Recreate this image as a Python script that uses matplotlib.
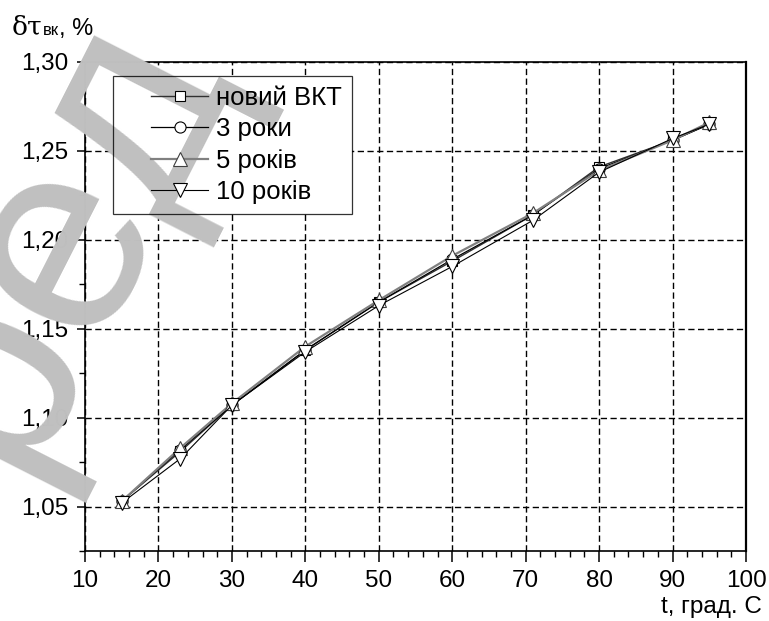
import matplotlib
matplotlib.use("Agg")
import matplotlib.pyplot as plt
from matplotlib.ticker import MultipleLocator, FuncFormatter
from matplotlib.legend_handler import HandlerLine2D
from matplotlib.lines import Line2D
from matplotlib.patches import Rectangle

plt.rcParams['font.family'] = ['Liberation Sans', 'DejaVu Sans']

# Data
t = [15, 23, 30, 40, 50, 60, 71, 80, 90, 95]
new_vkt = [1.053, 1.081, 1.107, 1.138, 1.165, 1.188, 1.214, 1.241, 1.256, 1.265]
years_3 = [1.053, 1.082, 1.107, 1.138, 1.165, 1.189, 1.214, 1.240, 1.256, 1.265]
years_5 = [1.053, 1.083, 1.108, 1.140, 1.166, 1.191, 1.215, 1.239, 1.256, 1.266]
years_10 = [1.052, 1.077, 1.107, 1.137, 1.163, 1.185, 1.211, 1.238, 1.257, 1.265]
labels = ["новий ВКТ", "3 роки", "5 років", "10 років"]

W, H = 769, 621
FS = 17.5
FS_LEG = 18.5
fig = plt.figure(figsize=(W / 100, H / 100), dpi=100)
ax = fig.add_axes([85 / W, 1 - 551 / H, (746 - 85) / W, (551 - 62) / H])

series = [new_vkt, years_3, years_5, years_10]
markers = ['s', 'o', '^', 'v']
msizes = [7.5, 8, 10, 10]
colors = ['#303030', 'black', '#808080', 'black']
widths = [1.0, 0.9, 1.6, 0.8]
for ys, m, ms, c, lw, lab in zip(series, markers, msizes, colors, widths, labels):
    ax.plot(t, ys, marker=m, markersize=ms, color=c, lw=lw,
            markerfacecolor='white', markeredgecolor='black' if m != '^' else '#404040',
            markeredgewidth=0.8, label=lab, zorder=3)

ax.set_xlim(10, 100)
ax.set_ylim(1.025, 1.30)
ax.xaxis.set_major_locator(MultipleLocator(10))
ax.xaxis.set_minor_locator(MultipleLocator(2))
ax.yaxis.set_major_locator(MultipleLocator(0.05))
ax.yaxis.set_minor_locator(MultipleLocator(0.025))
ax.yaxis.set_major_formatter(FuncFormatter(lambda v, p: f"{v:.2f}".replace('.', ',')))

ax.tick_params(which='major', direction='out', width=1.1, labelsize=FS)
ax.tick_params(axis='x', which='major', length=8, pad=6)
ax.tick_params(axis='y', which='major', length=6, pad=6)
ax.tick_params(which='minor', direction='out', length=4, width=1.0)
ax.tick_params(top=False, right=False)
for s in ax.spines.values():
    s.set_linewidth(1.2)
ax.spines['right'].set_linewidth(1.6)

ax.grid(True, which='major', color='black', lw=1.0, linestyle=(0, (4.5, 2.5)))
ax.set_axisbelow(True)

# legend with extra room left of the handle line; its text sits above the watermark
pad_h = HandlerLine2D(numpoints=1, xpad=1.09)
handles, _ = ax.get_legend_handles_labels()
leg = ax.legend(handles, labels, loc='upper left',
                bbox_to_anchor=((113 - 85) / 661, 1 - (76 - 62) / 489),
                fontsize=FS_LEG, frameon=True, fancybox=False, edgecolor='black',
                framealpha=None, handlelength=3.31, handletextpad=0.3, labelspacing=0.28,
                borderpad=0.4, borderaxespad=0,
                handler_map={Line2D: pad_h})
leg.get_frame().set_linewidth(0.9)
leg.get_frame().set_facecolor('none')
leg.set_zorder(6)

fig.canvas.draw()
renderer = fig.canvas.get_renderer()
bb = leg.get_window_extent(renderer).transformed(ax.transAxes.inverted())
ax.add_patch(Rectangle((bb.x0, bb.y0), bb.width, bb.height, transform=ax.transAxes,
                       facecolor='white', edgecolor='none', zorder=4))

# axis titles, laid out piece by piece
x0 = 12
parts = [("δτ", dict(family='DejaVu Serif', fontsize=19)),
         ("вк", dict(fontsize=12)),
         (", %", dict(fontsize=17))]
for txt, kw in parts:
    tx = fig.text(x0 / W, 1 - 35 / H, txt, va='baseline', **kw)
    x0 += tx.get_window_extent(renderer).width
fig.text(762 / W, 1 - 613 / H, "t, град. С", fontsize=FS, ha='right', va='baseline')

# watermark
ax.text(58 / W, 1 - 238 / H, "ред", fontsize=200, color='#c0c0c0', rotation=63,
        ha='center', va='center', transform=fig.transFigure, clip_on=False, zorder=4.5)

fig.savefig("out.png", dpi=100)
